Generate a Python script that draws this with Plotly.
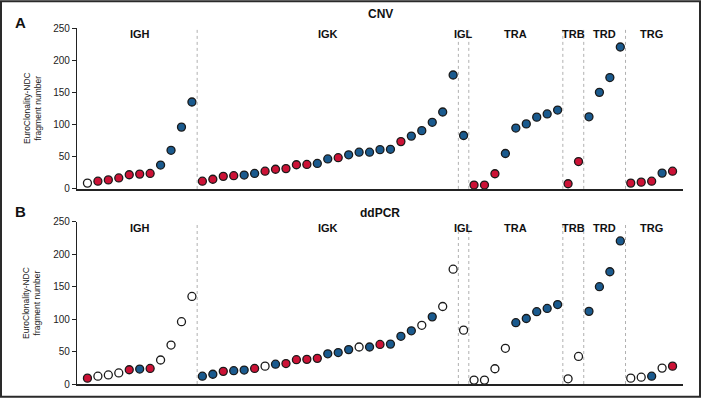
import plotly.graph_objects as go
from plotly.subplots import make_subplots

# ---- data ----
groups = ["IGH", "IGK", "IGL", "TRA", "TRB", "TRD", "TRG"]
igh = [9, 12, 14, 17, 22, 23, 24, 37, 60, 96, 135]
igk = [12, 15, 19.5, 20.5, 21.5, 24, 27.5, 30.5, 31.5, 37.5, 38, 39.5, 46.5, 48.5,
       53, 57, 57, 61, 61.5, 73.5, 82, 90.5, 103.5, 119.5, 177]
igl = [83]
tra = [6, 6, 23.5, 55, 94.5, 101, 111.5, 116.5, 122.5]
trb = [8, 42.5]
trd = [112, 150, 173, 220.5]
trg = [9, 10.5, 12, 24.5, 27.5]
values = [igh, igk, igl, tra, trb, trd, trg]

# status codes: R = red, B = blue, O = open
cnv_igh = list("ORRRRRRBBBB")
cnv_igk = list("RRRRBBRRRRRBBRBBBBBRBBBBB")
cnv_igl = list("B")
cnv_tra = list("RRRBBBBBB")
cnv_trb = list("RR")
cnv_trd = list("BBBB")
cnv_trg = list("RRRBR")

dd_igh = list("ROOORBROOOO")
dd_igk = list("BBRBBROBRRRRBBBOBRBBBOBOO")
dd_igl = list("O")
dd_tra = list("OOOOBBBBB")
dd_trb = list("OO")
dd_trd = list("BBBB")
dd_trg = list("OOBOR")

cnv_status = cnv_igh + cnv_igk + cnv_igl + cnv_tra + cnv_trb + cnv_trd + cnv_trg
dd_status = dd_igh + dd_igk + dd_igl + dd_tra + dd_trb + dd_trd + dd_trg

panel_titles = ["CNV", "ddPCR"]
panel_letters = ["A", "B"]
y_ticks = [0, 50, 100, 150, 200, 250]
y_title = "EuroClonality-NDC<br>fragment number"

# ---- styles ----
RED = "#CC1236"
BLUE = "#1A5A8E"
WHITE = "#FFFFFF"
EDGE = "#1A1A1A"
fill = {"R": RED, "B": BLUE, "O": WHITE}
FONT = "Liberation Sans, Arial, sans-serif"

W, H = 701, 402
ML, MR, MT, MB = 77, 18, 28, 14
PW, PH = W - ML - MR, H - MT - MB

all_vals = [v for g in values for v in g]
idx = list(range(len(all_vals)))

fig = make_subplots(rows=2, cols=1, vertical_spacing=0.09)

for row, status in ((1, cnv_status), (2, dd_status)):
    for code in ("O", "R", "B"):
        xs = [i for i in idx if status[i] == code]
        ys = [all_vals[i] for i in idx if status[i] == code]
        fig.add_trace(go.Scatter(
            x=xs, y=ys, mode="markers", showlegend=False,
            marker=dict(size=8, color=fill[code], line=dict(color=EDGE, width=1.3)),
        ), row=row, col=1)

top_dom = [(388 - 190.7) / PH, 1.0]
bot_dom = [0.0, (388 - 224) / PH]

axis_common = dict(range=[-1, 57], showgrid=False, zeroline=False, showticklabels=False,
                   ticks="", showline=True, linecolor="#222222", linewidth=1.6)
yaxis_common = dict(range=[0, 250], tickvals=y_ticks, showgrid=False, zeroline=False,
                    showline=True, linecolor="#222222", linewidth=1.2, ticks="outside",
                    ticklen=4, tickcolor="#222222", tickwidth=1,
                    tickfont=dict(family=FONT, size=10, color="#222222"))

fig.update_layout(
    width=W, height=H, margin=dict(l=ML, r=MR, t=MT, b=MB),
    plot_bgcolor="white", paper_bgcolor="white",
    xaxis=dict(axis_common), xaxis2=dict(axis_common),
    yaxis=dict(yaxis_common, domain=top_dom), yaxis2=dict(yaxis_common, domain=bot_dom),
)

# separators and group labels
bounds = []
start = 0
centers = []
for g in values:
    centers.append(start + (len(g) - 1) / 2)
    start += len(g)
    bounds.append(start - 0.5)
bounds = bounds[:-1]

for r, (xr, yr) in enumerate((("x", "y"), ("x2", "y2"))):
    for b in bounds:
        fig.add_shape(type="line", x0=b, x1=b, y0=0, y1=250, xref=xr, yref=yr,
                      line=dict(color="#B0B0B0", width=1, dash="dot"))
    for name, c in zip(groups, centers):
        fig.add_annotation(x=c, y=240 if r else 241, xref=xr, yref=yr, text=f"<b>{name}</b>",
                           showarrow=False, xanchor="center", yanchor="middle",
                           font=dict(family=FONT, size=11, color="#111111"))

# panel titles, letters, y titles
title_y = [(388 - 14) / PH, (388 - 215) / PH]
letter_y = [(388 - 22) / PH, (388 - 214) / PH]
ytitle_y = [(388 - 109) / PH, (388 - 306) / PH]
for k in range(2):
    fig.add_annotation(x=(380 - ML) / PW, y=title_y[k], xref="paper", yref="paper",
                       text=f"<b>{panel_titles[k]}</b>", showarrow=False,
                       xanchor="center", yanchor="middle",
                       font=dict(family=FONT, size=12, color="#111111"))
    fig.add_annotation(x=(20 - ML) / PW, y=letter_y[k], xref="paper", yref="paper",
                       text=f"<b>{panel_letters[k]}</b>", showarrow=False,
                       xanchor="center", yanchor="middle",
                       font=dict(family=FONT, size=15, color="#111111"))
    fig.add_annotation(x=(32 - ML) / PW, y=ytitle_y[k], xref="paper", yref="paper",
                       text=y_title, showarrow=False, textangle=-90,
                       xanchor="center", yanchor="middle",
                       font=dict(family="Liberation Sans Narrow, Arial Narrow, " + FONT,
                                 size=8.5, color="#222222"))

# outer frame
fig.add_shape(type="rect", xref="paper", yref="paper",
              x0=(1 - ML) / PW, x1=(W - 1 - ML) / PW,
              y0=(388 - (H - 1)) / PH, y1=(388 - 1) / PH,
              line=dict(color="#2A2A2A", width=2), fillcolor="rgba(0,0,0,0)")

fig.write_html("out.html", config={"displayModeBar": False},
               post_script="document.body.style.margin='0';document.body.style.overflow='hidden';")
